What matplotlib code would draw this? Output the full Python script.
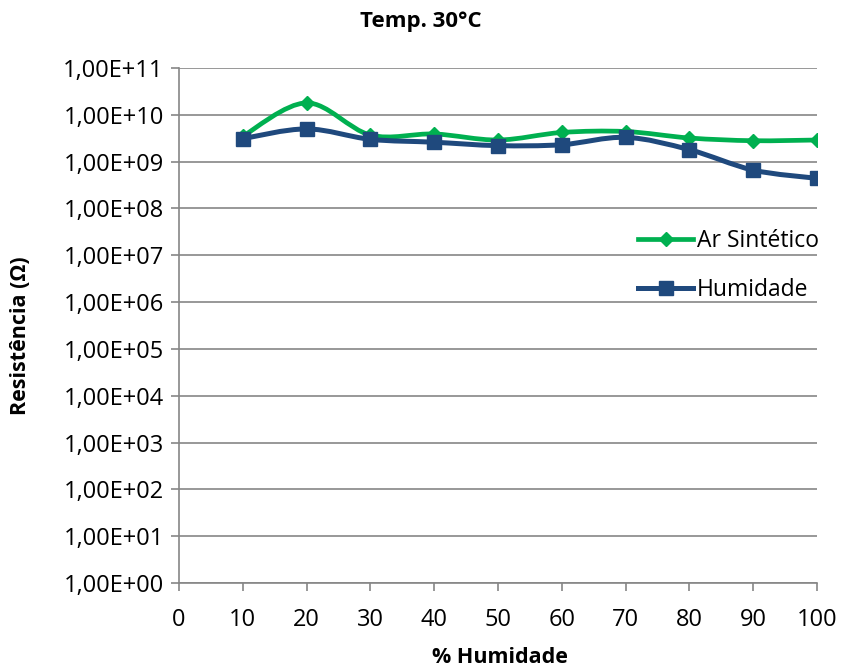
import numpy as np
import matplotlib
matplotlib.use('Agg')
from matplotlib import pyplot as plt
from matplotlib.path import Path
from matplotlib.patches import PathPatch
from matplotlib.lines import Line2D
from matplotlib.ticker import FixedLocator, FuncFormatter

plt.rcParams['font.family'] = ['Open Sans', 'DejaVu Sans']

humidade = [10, 20, 30, 40, 50, 60, 70, 80, 90, 100]
ar_sintetico = [3.5e9, 1.8e10, 3.7e9, 3.9e9, 2.9e9, 4.2e9, 4.4e9, 3.2e9, 2.8e9, 2.9e9]
humidade_res = [3.1e9, 5.0e9, 3.0e9, 2.6e9, 2.2e9, 2.3e9, 3.3e9, 1.8e9, 6.6e8, 4.4e8]

green = '#00B050'
blue = '#1F497D'
grid_c = '#868686'


def smooth_path(xs, ys):
    # excel-like smoothed line, bezier control points in (x, log y) space
    x = np.array(xs, dtype=float)
    ly = np.log10(ys)
    n = len(x)
    verts = [(x[0], ly[0])]
    codes = [Path.MOVETO]
    for i in range(n - 1):
        p0 = np.array([x[max(i - 1, 0)], ly[max(i - 1, 0)]])
        p1 = np.array([x[i], ly[i]])
        p2 = np.array([x[i + 1], ly[i + 1]])
        p3 = np.array([x[min(i + 2, n - 1)], ly[min(i + 2, n - 1)]])
        c1 = p1 + (p2 - p0) / 6
        c2 = p2 - (p3 - p1) / 6
        verts += [tuple(c1), tuple(c2), tuple(p2)]
        codes += [Path.CURVE4] * 3
    verts = [(vx, 10 ** vy) for vx, vy in verts]
    return Path(verts, codes)


fig = plt.figure(figsize=(8.42, 6.72), dpi=100)
ax = fig.add_axes([0.2126, 0.1324, 0.7577, 0.7664])
ax.set_yscale('log')
ax.set_xlim(0, 100)
ax.set_ylim(1, 1e11)

for xs, ys, col, mk, ms, lw in [(humidade, ar_sintetico, green, 'D', 7.5, 3.4),
                                 (humidade, humidade_res, blue, 's', 10, 3.6)]:
    ax.add_patch(PathPatch(smooth_path(xs, ys), fill=False, edgecolor=col,
                           linewidth=lw, capstyle='round', joinstyle='round', zorder=3))
    ax.plot(xs, ys, linestyle='none', marker=mk, markersize=ms, color=col, zorder=4)

ax.yaxis.set_major_locator(FixedLocator([10.0 ** k for k in range(12)]))
ax.yaxis.set_minor_locator(FixedLocator([]))
ax.yaxis.set_major_formatter(FuncFormatter(lambda v, p: '1,00E+%02d' % round(np.log10(v))))
ax.set_xticks(range(0, 101, 10))

ax.grid(axis='y', color=grid_c, linewidth=1.2)
ax.set_axisbelow(True)
for s in ['top', 'right']:
    ax.spines[s].set_visible(False)
for s in ['left', 'bottom']:
    ax.spines[s].set_color(grid_c)
    ax.spines[s].set_linewidth(1.2)
ax.tick_params(axis='both', colors=grid_c, length=6, width=1.2, labelsize=17, labelcolor='black')
ax.tick_params(axis='x', pad=12)
ax.tick_params(axis='y', pad=5)

fig.text(0.5, 1 - 22 / 672, 'Temp. 30°C', fontsize=16, fontweight='bold', ha='center', va='center')
ax.set_xlabel('% Humidade', fontsize=15.5, fontweight='bold', va='center')
ax.xaxis.set_label_coords(0.503, -0.144)
ax.set_ylabel('Resistência (Ω)', fontsize=15.5, fontweight='bold', va='center')
ax.yaxis.set_label_coords(-0.249, 0.48)

handles = [Line2D([], [], color=green, linewidth=3.4, marker='D', markersize=7.5),
           Line2D([], [], color=blue, linewidth=3.6, marker='s', markersize=10)]
ax.legend(handles, ['Ar Sintético', 'Humidade'], loc='upper right', bbox_to_anchor=(1.035, 0.728),
          frameon=False, fontsize=16.5, labelspacing=1.1, handlelength=2.4, handletextpad=0.15)

fig.savefig('out.png', dpi=100)
